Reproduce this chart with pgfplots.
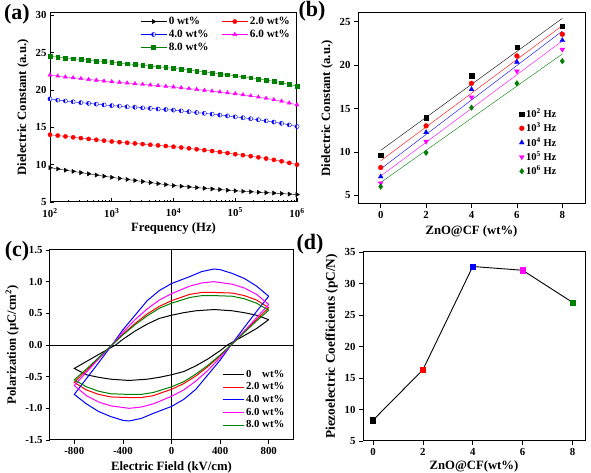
\documentclass[border=0pt]{standalone}
\usepackage{pgfplots}
\pgfplotsset{compat=1.18}
\usepackage{pgfplotstable}
\usetikzlibrary{plotmarks}
\usepackage{fontspec}
\setmainfont{Liberation Serif}
\definecolor{cred}{RGB}{255,0,0}
\definecolor{cblue}{RGB}{0,0,255}
\definecolor{cmag}{RGB}{255,0,255}
\definecolor{cgreen}{RGB}{0,128,0}
\pgfplotstableread{
t a b c d e
2.000 9.60 14.00 18.80 22.00 24.50
2.125 9.43 13.89 18.64 21.86 24.39
2.250 9.26 13.78 18.52 21.74 24.29
2.375 9.10 13.66 18.41 21.63 24.19
2.500 8.93 13.55 18.30 21.52 24.09
2.625 8.77 13.44 18.20 21.41 23.99
2.750 8.61 13.33 18.10 21.31 23.89
2.875 8.45 13.21 18.00 21.20 23.80
3.000 8.30 13.10 17.90 21.10 23.70
3.125 8.16 13.01 17.83 21.01 23.60
3.250 8.02 12.93 17.75 20.93 23.50
3.375 7.88 12.84 17.68 20.84 23.40
3.500 7.74 12.75 17.60 20.75 23.30
3.625 7.60 12.66 17.53 20.66 23.20
3.750 7.46 12.58 17.45 20.58 23.10
3.875 7.33 12.49 17.38 20.49 23.00
4.000 7.20 12.40 17.30 20.40 22.90
4.125 7.11 12.29 17.20 20.29 22.78
4.250 7.02 12.18 17.09 20.18 22.66
4.375 6.93 12.06 16.98 20.07 22.54
4.500 6.84 11.94 16.87 19.96 22.42
4.625 6.75 11.82 16.76 19.85 22.29
4.750 6.67 11.69 16.64 19.74 22.16
4.875 6.58 11.55 16.52 19.62 22.03
5.000 6.50 11.40 16.40 19.50 21.90
5.125 6.43 11.27 16.28 19.36 21.77
5.250 6.37 11.13 16.15 19.21 21.63
5.375 6.31 10.98 16.01 19.05 21.48
5.500 6.25 10.82 15.86 18.88 21.32
5.625 6.19 10.64 15.70 18.70 21.15
5.750 6.13 10.45 15.53 18.50 20.96
5.875 6.06 10.23 15.32 18.26 20.74
6.000 6.00 10.00 15.10 18.00 20.50
}\tabA
\pgfplotstableread{
x k2 k3 k4 k5 k6
0 9.60 8.20 7.15 6.40 6.00
2 13.95 13.00 12.25 11.20 9.90
4 18.80 17.90 17.20 16.30 15.10
6 22.05 21.05 20.35 19.30 17.90
8 24.50 23.55 22.85 21.80 20.45
}\tabB
\pgfplotsset{
  common/.style={
    scale only axis,
    axis line style={line width=1pt},
    tick align=inside,
    xtick pos=bottom, ytick pos=left,
    tick style={line width=0.7pt, black},
    major tick length=4pt, minor tick length=2pt,
    tick label style={font=\fontsize{10.8}{12}\selectfont\bfseries},
    label style={font=\fontsize{12.7}{14}\selectfont\bfseries},
    /pgf/number format/assume math mode=true,
    legend cell align=left,
    legend style={draw=none, fill=none, font=\fontsize{11.2}{13}\selectfont\bfseries, inner sep=0pt},
  },
}
\begin{document}
\begin{tikzpicture}[x=1pt,y=1pt]
\useasboundingbox (0,0) rectangle (591,473);
% ---------------- (a)
\begin{axis}[common, at={(50pt,271pt)}, anchor=south west,
  width=247pt, height=189pt,
  xmode=log, xmin=100, xmax=1e6, ymin=5, ymax=30.3,
  xtick={1e2,1e3,1e4,1e5,1e6},
  xticklabels={10\textsuperscript{2},10\textsuperscript{3},10\textsuperscript{4},10\textsuperscript{5},10\textsuperscript{6}},
  xticklabel style={yshift=-2.5pt},
  ytick={5,10,...,30},
  xlabel={Frequency (Hz)}, ylabel={Dielectric Constant (a.u.)},
  xlabel style={yshift=1.5pt},
  legend columns=2,
  legend style={at={(0.365,0.99)}, anchor=north west,
    /tikz/every even column/.append style={column sep=11pt}},
  legend image code/.code={\draw[mark repeat=2,mark phase=2,#1] plot coordinates {(0pt,0pt) (13pt,0pt) (26pt,0pt)};},
]
\addplot[black, mark=triangle*, mark options={rotate=-90}, mark size=2.4pt] table[x expr=10^\thisrow{t}, y=a] {\tabA};
\addlegendentry{0 wt\%}
\addplot[cred, mark=*, mark size=2.1pt] table[x expr=10^\thisrow{t}, y=b] {\tabA};
\addlegendentry{2.0 wt\%}
\addplot[cblue, mark=halfcircle*, mark options={rotate=90, fill=cblue}, mark size=2.1pt] table[x expr=10^\thisrow{t}, y=c] {\tabA};
\addlegendentry{4.0 wt\%}
\addplot[cmag, mark=triangle*, mark size=2.3pt] table[x expr=10^\thisrow{t}, y=d] {\tabA};
\addlegendentry{6.0 wt\%}
\addplot[cgreen, mark=square*, mark size=1.9pt] table[x expr=10^\thisrow{t}, y=e] {\tabA};
\addlegendentry{8.0 wt\%}
\end{axis}
% ---------------- (b)
\begin{axis}[common, tick align=outside, at={(358pt,269pt)}, anchor=south west,
  width=227pt, height=191pt,
  xmin=-1, xmax=9, ymin=4, ymax=26,
  xtick={0,2,...,8}, ytick={5,10,...,25},
  xlabel={ZnO@CF (wt\%)}, ylabel={Dielectric Constant (a.u.)},
  legend style={at={(0.71,0.51)}, anchor=north west, font=\fontsize{10.5}{13}\selectfont\bfseries},
]
\addplot[black, forget plot] coordinates {(0,10.18) (8,25.38)};
\addplot[cred, forget plot] coordinates {(0,8.98) (8,24.54)};
\addplot[cblue, forget plot] coordinates {(0,8.04) (8,23.92)};
\addplot[cmag, forget plot] coordinates {(0,7.22) (8,22.78)};
\addplot[cgreen, forget plot] coordinates {(0,6.48) (8,21.28)};
\addplot[only marks, black, mark=square*, mark size=2.2pt] table[x=x, y=k2] {\tabB};
\addlegendentry{10\textsuperscript{2} Hz}
\addplot[only marks, cred, mark=*, mark size=2.4pt] table[x=x, y=k3] {\tabB};
\addlegendentry{10\textsuperscript{3} Hz}
\addplot[only marks, cblue, mark=triangle*, mark size=2.8pt] table[x=x, y=k4] {\tabB};
\addlegendentry{10\textsuperscript{4} Hz}
\addplot[only marks, cmag, mark=triangle*, mark options={rotate=180}, mark size=2.8pt] table[x=x, y=k5] {\tabB};
\addlegendentry{10\textsuperscript{5} Hz}
\addplot[only marks, cgreen, mark=diamond*, mark size=2.8pt] table[x=x, y=k6] {\tabB};
\addlegendentry{10\textsuperscript{6} Hz}
\end{axis}
% ---------------- (c)
\begin{axis}[common, tick align=outside, at={(50pt,33pt)}, anchor=south west,
  width=243pt, height=190pt,
  xmin=-1000, xmax=1000, ymin=-1.5, ymax=1.5,
  xtick={-800,-400,0,400,800}, ytick={-1.5,-1,...,1.5},
  yticklabel style={/pgf/number format/.cd, fixed, fixed zerofill, precision=1},
  xlabel={Electric Field (kV/cm)}, ylabel={Polarization (μC/cm\textsuperscript{2})},
  legend style={at={(0.707,0.38)}, anchor=north west, font=\fontsize{10.8}{12}\selectfont\bfseries},
  legend image code/.code={\draw[#1] (0pt,0pt) -- (21pt,0pt);},
]
\addplot[black, line width=0.8pt, forget plot] coordinates {(-1000,0) (1000,0)};
\addplot[black, line width=0.8pt, forget plot] coordinates {(0,-1.5) (0,1.5)};
\addplot[black, line width=1pt] coordinates {
(800,0.40) (700,0.47) (600,0.51) (500,0.54) (350,0.56) (200,0.54) (100,0.51) (0,0.47)
(-100,0.42) (-200,0.33) (-300,0.22) (-400,0.09) (-460,0) (-600,-0.15) (-700,-0.26) (-800,-0.37)
(-700,-0.47) (-600,-0.51) (-500,-0.54) (-350,-0.56) (-200,-0.54) (-100,-0.51) (0,-0.47)
(100,-0.42) (200,-0.33) (300,-0.22) (400,-0.09) (460,0) (600,0.15) (700,0.26) (800,0.40)};
\addlegendentry{0\hphantom{.0} wt\%}
\addplot[cred, line width=1pt] coordinates {
(800,0.59) (700,0.71) (600,0.78) (500,0.82) (350,0.83) (250,0.83) (150,0.80) (0,0.70)
(-100,0.61) (-200,0.49) (-300,0.34) (-400,0.17) (-490,0) (-600,-0.21) (-700,-0.40) (-800,-0.59)
(-700,-0.71) (-600,-0.78) (-500,-0.82) (-350,-0.83) (-250,-0.83) (-150,-0.80) (0,-0.70)
(100,-0.61) (200,-0.49) (300,-0.34) (400,-0.17) (490,0) (600,0.21) (700,0.40) (800,0.59)};
\addlegendentry{2.0 wt\%}
\addplot[cblue, line width=1pt] coordinates {
(800,0.77) (700,0.93) (600,1.05) (500,1.13) (400,1.19) (350,1.20) (250,1.16) (150,1.08) (0,0.97)
(-100,0.86) (-200,0.70) (-300,0.47) (-400,0.24) (-490,0) (-600,-0.28) (-700,-0.53) (-800,-0.78)
(-700,-0.93) (-600,-1.05) (-500,-1.13) (-400,-1.19) (-350,-1.20) (-250,-1.16) (-150,-1.08) (0,-0.97)
(100,-0.86) (200,-0.70) (300,-0.47) (400,-0.24) (490,0) (600,0.28) (700,0.53) (800,0.77)};
\addlegendentry{4.0 wt\%}
\addplot[cmag, line width=1pt] coordinates {
(800,0.64) (700,0.80) (600,0.90) (500,0.96) (350,1.00) (250,0.98) (150,0.93) (0,0.81)
(-100,0.71) (-200,0.57) (-300,0.40) (-400,0.20) (-490,0) (-600,-0.22) (-700,-0.43) (-800,-0.64)
(-700,-0.80) (-600,-0.90) (-500,-0.96) (-350,-1.00) (-250,-0.98) (-150,-0.93) (0,-0.81)
(100,-0.71) (200,-0.57) (300,-0.40) (400,-0.20) (490,0) (600,0.22) (700,0.43) (800,0.64)};
\addlegendentry{6.0 wt\%}
\addplot[cgreen, line width=1pt] coordinates {
(800,0.55) (700,0.66) (600,0.73) (500,0.77) (350,0.78) (250,0.78) (150,0.75) (0,0.66)
(-100,0.58) (-200,0.46) (-300,0.32) (-400,0.16) (-490,0) (-600,-0.20) (-700,-0.38) (-800,-0.55)
(-700,-0.66) (-600,-0.73) (-500,-0.77) (-350,-0.78) (-250,-0.78) (-150,-0.75) (0,-0.66)
(100,-0.58) (200,-0.46) (300,-0.32) (400,-0.16) (490,0) (600,0.20) (700,0.38) (800,0.55)};
\addlegendentry{8.0 wt\%}
\end{axis}
% ---------------- (d)
\begin{axis}[common, tick align=outside, at={(363pt,32pt)}, anchor=south west,
  width=222pt, height=189pt,
  xmin=-0.4, xmax=8.5, ymin=5, ymax=35,
  xtick={0,2,...,8}, ytick={5,10,...,35},
  xlabel={ZnO@CF(wt\%)}, ylabel={Piezoelectric Coefficients (pC/N)},
  xlabel style={yshift=1.5pt},
  ylabel style={font=\fontsize{13.3}{15}\selectfont\bfseries},
]
\addplot[black, line width=0.9pt] coordinates {(0,8.3) (2,16.3) (4,32.7) (6,32.1) (8,27.0)};
\addplot[only marks, black, mark=square*, mark size=2.6pt] coordinates {(0,8.3)};
\addplot[only marks, cred, mark=square*, mark size=2.6pt] coordinates {(2,16.3)};
\addplot[only marks, cblue, mark=square*, mark size=2.6pt] coordinates {(4,32.7)};
\addplot[only marks, cmag, mark=square*, mark size=2.6pt] coordinates {(6,32.1)};
\addplot[only marks, cgreen, mark=square*, mark size=2.6pt] coordinates {(8,27.0)};
\end{axis}
% panel labels
\node[font=\fontsize{22}{24}\selectfont\bfseries] at (17,459) {(a)};
\node[font=\fontsize{22}{24}\selectfont\bfseries] at (312,462) {(b)};
\node[font=\fontsize{22}{24}\selectfont\bfseries] at (17,222) {(c)};
\node[font=\fontsize{22}{24}\selectfont\bfseries] at (310,229) {(d)};
\end{tikzpicture}
\end{document}
